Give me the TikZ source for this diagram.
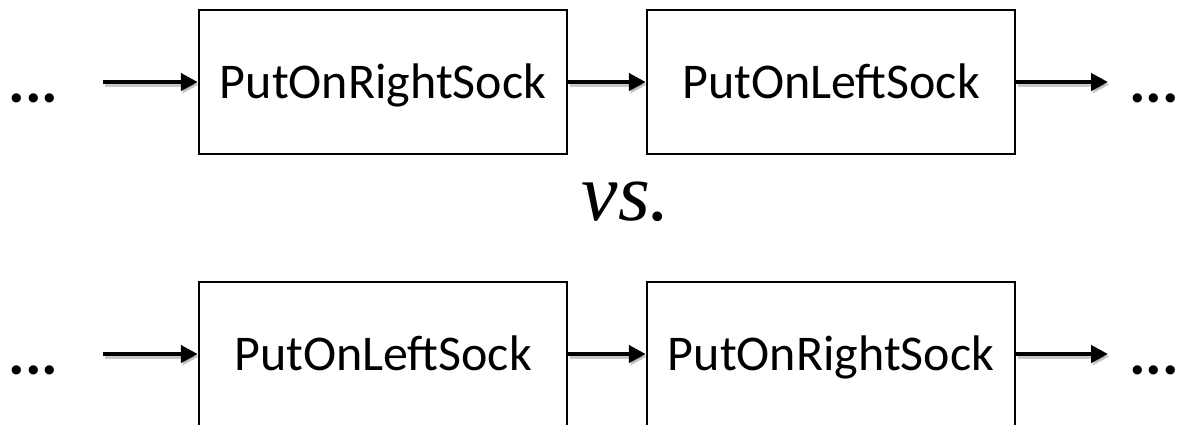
\documentclass[tikz,border=0pt]{standalone}
\usepackage{fontspec}
\setmainfont{Carlito}
\newfontfamily\vsserif[ItalicFont={Liberation Serif Italic}]{Liberation Serif}
\usetikzlibrary{arrows.meta}
\begin{document}
\begin{tikzpicture}[x=1pt,y=-1pt,
  stepbox/.style={draw, line width=2.5pt, minimum width=368pt, minimum height=144pt,
    inner sep=0pt, text height=32pt, text depth=0pt,
    font=\fontsize{50pt}{56pt}\selectfont},
  flow/.style={line width=4.5pt, -{Triangle[length=17pt,width=17pt]},
    preaction={draw=black, opacity=.22, line width=4.5pt,
      transform canvas={shift={(1.5pt,-2.5pt)}}}},
  ellip/.style={inner sep=0pt, anchor=base, font=\bfseries\fontsize{62pt}{70pt}\selectfont},
  versus/.style={inner sep=0pt, anchor=base}]
\useasboundingbox (0,0) rectangle (1179,424);
\clip (0,0) rectangle (1179,424);

% first ordering: right sock, then left sock
\node[stepbox] (r1) at (383,82) {PutOnRightSock};
\node[stepbox] (l1) at (831,82) {PutOnLeftSock};
\node[ellip] (pre1) at (33.5,102) {...};
\node[ellip] (post1) at (1154,102) {...};
\coordinate (in1) at (103,82);
\coordinate (out1) at (1108,82);
\draw[flow] (in1) -- (r1.west);
\draw[flow] (r1.east) -- (l1.west);
\draw[flow] (l1.east) -- (out1);

\node[versus] (vs) at (626,220) {\fontsize{82pt}{90pt}\vsserif\itshape vs.};

% second ordering: left sock, then right sock
\node[stepbox] (l2) at (383,354) {PutOnLeftSock};
\node[stepbox] (r2) at (831,354) {PutOnRightSock};
\node[ellip] (pre2) at (33.5,374) {...};
\node[ellip] (post2) at (1154,374) {...};
\coordinate (in2) at (103,354);
\coordinate (out2) at (1108,354);
\draw[flow] (in2) -- (l2.west);
\draw[flow] (l2.east) -- (r2.west);
\draw[flow] (r2.east) -- (out2);
\end{tikzpicture}
\end{document}
